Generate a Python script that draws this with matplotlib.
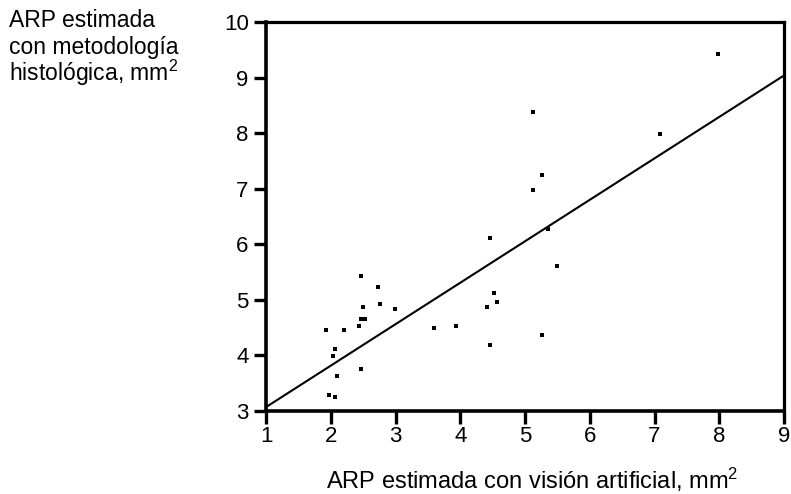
import matplotlib
matplotlib.use("Agg")
import matplotlib.pyplot as plt
import numpy as np

plt.rcParams['font.family'] = ['Liberation Sans', 'DejaVu Sans']
plt.rcParams['mathtext.fontset'] = 'custom'
plt.rcParams['mathtext.rm'] = 'Liberation Sans'
plt.rcParams['mathtext.it'] = 'Liberation Sans'

# Data
x_vision = [1.93, 2.20, 2.46, 2.73, 2.50, 2.76, 2.99, 2.46, 2.53, 2.43,
            2.03, 2.06, 2.46, 2.10, 1.97, 2.06, 3.59, 3.93, 4.42, 4.52,
            4.56, 4.46, 7.98, 5.12, 7.09, 5.26, 5.12, 5.36, 4.46, 5.49, 5.26]
y_histo = [4.45, 4.45, 5.43, 5.23, 4.88, 4.92, 4.84, 4.65, 4.65, 4.53,
           3.99, 4.11, 3.76, 3.63, 3.29, 3.25, 4.49, 4.53, 4.88, 5.12,
           4.96, 4.18, 9.43, 8.38, 7.99, 7.25, 6.97, 6.28, 6.12, 5.61, 4.37]
fit_intercept = 2.324   # y at x=0
fit_slope = 0.746
x_ticks = [1, 2, 3, 4, 5, 6, 7, 8, 9]
y_ticks = [3, 4, 5, 6, 7, 8, 9, 10]
y_label_lines = ['ARP estimada', 'con metodología', 'histológica, mm$^2$']
x_label = 'ARP estimada con visión artificial, mm$^2$'

W, H = 791, 494
fig = plt.figure(figsize=(W / 100, H / 100), dpi=100)
ax = fig.add_axes([266 / W, 1 - 411 / H, (784 - 266) / W, (411 - 22) / H])

ax.scatter(x_vision, y_histo, marker='s', s=10, color='black', linewidths=0, zorder=3)
xl = np.array([1, 9])
ax.plot(xl, fit_intercept + fit_slope * xl, color='black', lw=1.5, zorder=2)

ax.set_xlim(1, 9)
ax.set_ylim(3, 10)
ax.set_xticks(x_ticks)
ax.set_yticks(y_ticks)
ax.tick_params(direction='out', length=9, width=2.4, labelsize=16, colors='black')
ax.tick_params(axis='x', pad=2)
ax.tick_params(axis='y', pad=3.5)
for s in ['left', 'bottom']:
    ax.spines[s].set_linewidth(2.6)
for s in ['top', 'right']:
    ax.spines[s].set_linewidth(2.3)

for i, line in enumerate(y_label_lines):
    fig.text(9 / W, 1 - (27 + 27 * i) / H, line, ha='left', va='baseline', fontsize=16.5)
fig.text(326 / W, 1 - 489 / H, x_label, ha='left', va='baseline', fontsize=17)

fig.savefig('out.png', dpi=100)
